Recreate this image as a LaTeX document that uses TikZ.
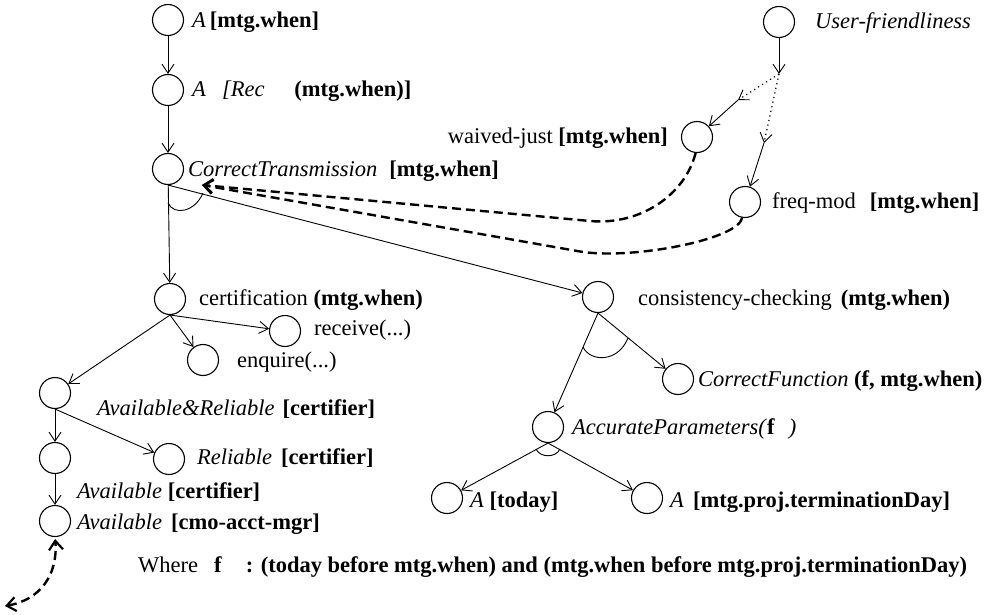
\documentclass[tikz,border=0pt]{standalone}
\usepackage{fontspec}
\setmainfont{Liberation Serif}
\usetikzlibrary{arrows.meta}
\begin{document}
\begin{tikzpicture}[x=1pt,y=-1pt,
  goal/.style={circle,draw,line width=1.1pt,minimum size=31pt,inner sep=0pt},
  lbl/.style={anchor=base west,inner sep=0pt,font=\fontsize{22.5}{27}\selectfont},
  lblr/.style={anchor=base east,inner sep=0pt,font=\fontsize{22.5}{27}\selectfont},
  barb/.tip={Straight Barb[length=9pt,width=12pt,line width=0.9pt]},
  heavybarb/.tip={Straight Barb[length=9pt,width=14pt,line width=2.2pt]},
  arr/.style={line width=0.9pt,-barb},
  dotl/.style={line width=1.2pt,dash pattern=on 1.2pt off 3.5pt,-barb},
  dsh/.style={line width=2.4pt,dash pattern=on 9pt off 5pt,-heavybarb},
  dsh2/.style={line width=2.4pt,dash pattern=on 9pt off 5pt,heavybarb-heavybarb},
  andarc/.style={line width=0.9pt}
]
\path[use as bounding box] (0,0) rectangle (1001,615);

% goal nodes
\node[goal] (a1) at (168,20) {};
\node[goal] (a2) at (168,90) {};
\node[goal] (ct) at (168,169) {};
\node[goal] (uf) at (779,22) {};
\node[goal] (wj) at (697,137) {};
\node[goal] (fm) at (745,202) {};
\node[goal] (cert) at (170,299) {};
\node[goal] (cc) at (598,297) {};
\node[goal] (recv) at (285,331) {};
\node[goal] (enq) at (203,360) {};
\node[goal] (cf) at (678,379) {};
\node[goal] (ap) at (548,427) {};
\node[goal] (at) at (447,498) {};
\node[goal] (am) at (647,498) {};
\node[goal] (ar) at (55,393) {};
\node[goal] (av1) at (55,458) {};
\node[goal] (rel) at (169,459) {};
\node[goal] (av2) at (55,521) {};

% labels
\node[lbl] (a1l) at (192,28) {\textit{A}\,\textbf{[mtg.when]}};
\node[lbl] (a2l) at (192,97) {\textit{A}\hspace{16pt}\textit{[Rec}\hspace{30pt}\textbf{(mtg.when)]}};
\node[lbl] (ctl) at (188,176) {\textit{CorrectTransmission}\hspace{12pt}\textbf{[mtg.when]}};
\node[lbl] (ufl) at (815,29) {\textit{User-friendliness}};
\node[lblr] (wjl) at (668,143) {waived-just \textbf{[mtg.when]}};
\node[lbl] (fml) at (772,208) {freq-mod\hspace{14pt}\textbf{[mtg.when]}};
\node[lbl] (certl) at (199,305) {certification \textbf{(mtg.when)}};
\node[lbl] (ccl) at (638,305) {consistency-checking\hspace{9pt}\textbf{(mtg.when)}};
\node[lbl] (recvl) at (314,335) {receive(...)};
\node[lbl] (enql) at (237,367) {enquire(...)};
\node[lbl] (cfl) at (698,386) {\textit{CorrectFunction} \textbf{(f, mtg.when)}};
\node[lbl] (apl) at (572,434) {\textit{AccurateParameters(}\textbf{f}\hspace{14pt}\textit{)}};
\node[lbl] (arl) at (97,415) {\textit{Available\&Reliable}\hspace{8pt}\textbf{[certifier]}};
\node[lbl] (rell) at (197,464) {\textit{Reliable}\hspace{9pt}\textbf{[certifier]}};
\node[lbl] (av1l) at (77,498) {\textit{Available} \textbf{[certifier]}};
\node[lbl] (av2l) at (77,529) {\textit{Available}\hspace{9pt}\textbf{[cmo-acct-mgr]}};
\node[lbl] (atl) at (470,507) {\textit{A} \textbf{[today]}};
\node[lbl] (aml) at (670,507) {\textit{A}\hspace{9pt}\textbf{[mtg.proj.terminationDay]}};
\node[lbl] (where) at (138,572) {Where\hspace{16pt}\textbf{f}\hspace{24pt}\textbf{: (today before mtg.when) and (mtg.when before mtg.proj.terminationDay)}};

% helper coordinates
\coordinate (sp) at (779,74);
\coordinate (ml) at (738,100);
\coordinate (mr) at (764,143);
\coordinate (tip) at (202,185);
\coordinate (j1) at (590,221);
\coordinate (j2) at (580,251.5);
\coordinate (bl) at (5,606);

% solid links
\draw[arr] (a1) -- (a2);
\draw[arr] (a2) -- (ct);
\draw[arr] (ct) -- (cert);
\draw[arr] (ct.south) -- (cc);
\draw[arr] (cert.south) -- (recv);
\draw[arr] (cert.south) -- (enq);
\draw[arr] (cert.south) -- (ar);
\draw[arr] (ar.south) -- (av1);
\draw[arr] (ar.south) -- (rel);
\draw[arr] (av1) -- (av2);
\draw[arr] (cc.south) -- (ap);
\draw[arr] (cc.south) -- (cf);
\draw[arr] (ap.south) -- (at);
\draw[arr] (ap.south) -- (am);

% AND arcs
\draw[andarc] (168,203) .. controls (174,216) and (195,212) .. (203,193);
\draw[andarc] (583,347) .. controls (590,362) and (618,363) .. (628,338);
\draw[andarc] (536,449) .. controls (540,458) and (556,458) .. (560,449);

% user-friendliness contributions
\draw[arr] (uf) -- (sp);
\draw[dotl] (sp) -- (ml);
\draw[arr] (ml) -- (wj);
\draw[dotl] (sp) -- (mr);
\draw[arr] (mr) -- (fm);

% dashed correlations
\draw[dsh] (wj.-95) .. controls (685,195) and (640,225.6) .. (j1) -- (tip);
\draw[dsh] (fm.-100) .. controls (738,240) and (630,260) .. (j2) -- (tip);
\draw[dsh2,shorten >=2pt] (bl) .. controls (40,600) and (58,575) .. (av2.south);
\end{tikzpicture}
\end{document}
